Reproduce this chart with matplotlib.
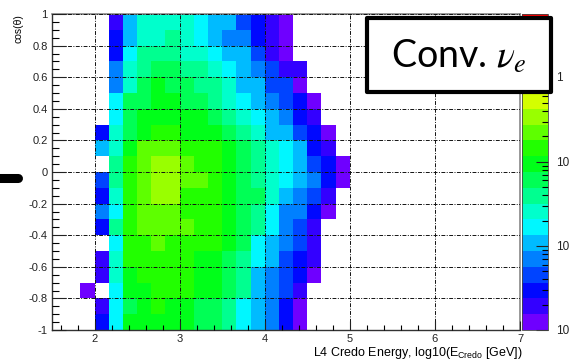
import colorsys

import matplotlib
matplotlib.use("Agg")
import matplotlib.pyplot as plt
import numpy as np
from matplotlib.colors import ListedColormap, LogNorm
from matplotlib.lines import Line2D
from matplotlib.patches import Rectangle
from matplotlib.ticker import (FixedFormatter, FixedLocator, LogLocator,
                               MultipleLocator, NullFormatter)
from matplotlib.transforms import blended_transform_factory, offset_copy

# log10(E) bins run 1.5 -> 7 in steps of 1/6; only bins 2..20 hold entries
E_EDGES = np.linspace(1.5, 7.0, 34)[2:22]
COS_EDGES = np.linspace(-1.0, 1.0, 21)

# entries per bin, first row is cos(theta) in [0.9, 1.0], last row [-1.0, -0.9]
COUNTS = [
    [0, 0, 19, 110, 260, 260, 260, 260, 170, 110, 110, 46, 30, 19, 12, 0, 0, 0, 0],
    [0, 0, 30, 110, 260, 260, 400, 260, 170, 110, 70, 70, 30, 19, 12, 0, 0, 0, 0],
    [0, 0, 30, 170, 400, 400, 400, 260, 260, 170, 110, 110, 46, 19, 12, 0, 0, 0, 0],
    [0, 0, 70, 260, 400, 610, 610, 400, 400, 260, 170, 110, 70, 46, 19, 19, 0, 0, 0],
    [0, 0, 70, 260, 610, 940, 610, 610, 400, 400, 260, 110, 110, 46, 46, 12, 0, 0, 0],
    [0, 0, 170, 610, 610, 940, 940, 610, 610, 400, 260, 170, 110, 70, 46, 30, 12, 0, 0],
    [0, 0, 170, 610, 940, 940, 940, 940, 940, 610, 400, 260, 170, 110, 70, 30, 19, 0, 0],
    [0, 30, 260, 610, 940, 1450, 1450, 940, 940, 940, 610, 400, 260, 110, 110, 46, 30, 12, 0],
    [0, 110, 260, 940, 2240, 2240, 2240, 1450, 1450, 1450, 940, 610, 400, 260, 170, 110, 30, 19, 0],
    [0, 0, 400, 1450, 2240, 3450, 3450, 2240, 1450, 1450, 940, 610, 400, 260, 170, 110, 46, 30, 12],
    [0, 46, 400, 1450, 2240, 3450, 3450, 2240, 2240, 1450, 940, 610, 400, 260, 170, 110, 70, 30, 12],
    [0, 30, 260, 1450, 2240, 3450, 3450, 1450, 1450, 1450, 940, 610, 610, 260, 110, 70, 46, 19, 0],
    [0, 70, 170, 1450, 2240, 2240, 2240, 1450, 1450, 1450, 940, 610, 400, 170, 70, 70, 30, 12, 0],
    [0, 30, 400, 1450, 2240, 2240, 2240, 2240, 1450, 1450, 940, 610, 400, 170, 70, 46, 19, 0, 0],
    [0, 0, 170, 1450, 1450, 2240, 1450, 1450, 1450, 1450, 940, 610, 170, 110, 70, 46, 19, 0, 0],
    [0, 19, 260, 1450, 1450, 1450, 1450, 1450, 940, 940, 610, 400, 170, 110, 46, 30, 19, 0, 0],
    [0, 19, 260, 940, 1450, 1450, 1450, 1450, 940, 940, 610, 400, 110, 70, 46, 30, 12, 0, 0],
    [12, 0, 170, 940, 940, 1450, 1450, 1450, 940, 940, 610, 400, 110, 70, 46, 19, 0, 0, 0],
    [0, 19, 170, 610, 940, 1450, 940, 940, 610, 610, 400, 170, 110, 70, 30, 12, 0, 0, 0],
    [0, 30, 170, 940, 940, 940, 940, 940, 610, 610, 400, 170, 110, 70, 30, 12, 0, 0, 0],
]

X_TICKS = [2, 3, 4, 5, 6, 7]
Y_TICKS = [-1, -0.8, -0.6, -0.4, -0.2, 0, 0.2, 0.4, 0.6, 0.8, 1]
Y_TICK_LABELS = ["-1", "-0.8", "-0.6", "-0.4", "-0.2", "0",
                 "0.2", "0.4", "0.6", "0.8", "1"]
Z_MIN, Z_MAX = 10, 57000
Z_TICKS = [10, 100, 1000, 10000]
Z_TICK_LABELS = ["10", "10", "10", "1"]

plt.rcParams["font.family"] = ["Liberation Sans", "DejaVu Sans"]
plt.rcParams["axes.unicode_minus"] = False
plt.rcParams["mathtext.fontset"] = "custom"
plt.rcParams["mathtext.rm"] = "Liberation Sans"
plt.rcParams["mathtext.it"] = "Liberation Sans:italic"

# 20-step rainbow, violet at the bottom through to red at the top
palette = [colorsys.hsv_to_rgb((266 - 14 * i) / 360.0, 1.0, 1.0) for i in range(20)]
cmap = ListedColormap(palette)

W, H = 569, 361
fig = plt.figure(figsize=(W / 100, H / 100), dpi=100)

def fig_box(x0, y0, x1, y1):
    return [x0 / W, 1 - y1 / H, (x1 - x0) / W, (y1 - y0) / H]

ax = fig.add_axes(fig_box(52, 14, 520, 330))
cax = fig.add_axes(fig_box(522, 14, 548, 330))

counts = np.ma.masked_equal(np.array(COUNTS[::-1], dtype=float), 0)
mesh = ax.pcolormesh(E_EDGES, COS_EDGES, counts, cmap=cmap,
                     norm=LogNorm(vmin=Z_MIN, vmax=Z_MAX),
                     antialiased=False, linewidth=0)

ax.set_xlim(1.5, 7.0)
ax.set_ylim(-1.0, 1.0)
ax.set_axisbelow(False)

ax.xaxis.set_major_locator(FixedLocator(X_TICKS))
ax.xaxis.set_minor_locator(MultipleLocator(0.2))
ax.yaxis.set_major_locator(FixedLocator(Y_TICKS))
ax.yaxis.set_major_formatter(FixedFormatter(Y_TICK_LABELS))
ax.yaxis.set_minor_locator(MultipleLocator(0.05))

ax.tick_params(axis="x", which="major", direction="in", length=6.8, width=0.8,
               pad=3, labelsize=8, colors="#222222")
ax.tick_params(axis="x", which="minor", direction="in", length=3.4, width=0.8)
ax.tick_params(axis="y", which="major", direction="in", length=10, width=0.8,
               pad=3, labelsize=8, colors="#222222")
ax.tick_params(axis="y", which="minor", direction="in", length=5, width=0.8)

ax.grid(True, which="major", color="#111111", linewidth=0.7,
        linestyle=(0, (4, 1.5, 1, 1.5)))

for side in ("left", "bottom"):
    ax.spines[side].set_color("#333333")
    ax.spines[side].set_linewidth(1.0)
for side in ("top", "right"):
    ax.spines[side].set_color("#888888")
    ax.spines[side].set_linewidth(1.2)

ax.set_ylabel("cos(θ)", loc="top", fontsize=7.5)
ax.yaxis.set_label_coords(-0.06, 1.0)
ax.set_xlabel(r"L4 Credo Energy, log10(E$_{\mathrm{Credo}}$ [GeV])",
              loc="right", fontsize=9)
ax.xaxis.set_label_coords(1.006, -0.047)

cb = fig.colorbar(mesh, cax=cax)
cb.outline.set_linewidth(0.6)
cb.outline.set_edgecolor("#444444")
cb.set_ticks(Z_TICKS, labels=Z_TICK_LABELS[:-1] + [""])
cax.yaxis.set_minor_locator(LogLocator(base=10, subs=range(2, 10)))
cax.yaxis.set_minor_formatter(NullFormatter())
cax.tick_params(which="major", direction="in", length=9, width=0.8, pad=6,
                labelsize=8.5, colors="#222222")
cax.tick_params(which="minor", direction="in", length=4.5, width=0.8)

# label box over the upper right corner
fig.add_artist(Rectangle((367 / W, 1 - 92 / H), 184 / W, 74 / H,
                         transform=fig.transFigure, facecolor="white",
                         edgecolor="black", linewidth=3.0, joinstyle="round",
                         zorder=10))
fig.text(459 / W, 1 - 56 / H, r"Conv. $\nu_e$", ha="center", va="center",
         fontsize=27, family=["Lato", "DejaVu Sans"], math_fontfamily="stix",
         zorder=11)

# top colour scale label sits beside the box, so draw it above it
top_label = offset_copy(blended_transform_factory(cax.transAxes, cax.transData),
                        fig=fig, x=8.5, y=0, units="dots")
fig.text(1.0, Z_TICKS[-1], Z_TICK_LABELS[-1], transform=top_label,
         ha="left", va="center", fontsize=8.5, color="#222222", zorder=12)

# black dash at the left edge
fig.add_artist(Line2D([-0.02, 17.5 / W], [1 - 178 / H, 1 - 178 / H],
                      transform=fig.transFigure, color="black", linewidth=6.5,
                      solid_capstyle="round", zorder=10))

fig.savefig("out.png", dpi=100)
